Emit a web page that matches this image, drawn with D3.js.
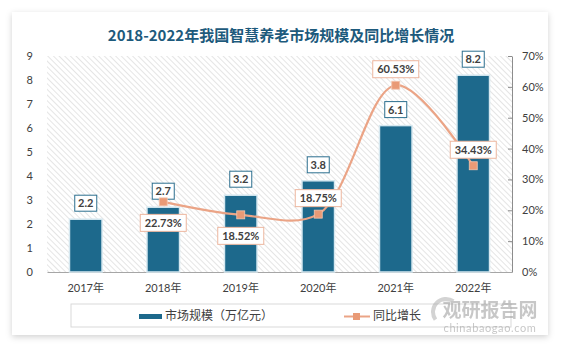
<!DOCTYPE html>
<html>
<head>
<meta charset="utf-8">
<script src="https://cdn.jsdelivr.net/npm/d3@7"></script>
<style>
  body { margin: 0; background: #fff; }
  text { font-family: Lato, "Noto Sans CJK SC", sans-serif; }
</style>
</head>
<body>
<svg id="chart" width="563" height="347"></svg>
<script>
// data
let years = ['2017年', '2018年', '2019年', '2020年', '2021年', '2022年']
let market = [2.2, 2.7, 3.2, 3.8, 6.1, 8.2]
let growthYears = ['2018年', '2019年', '2020年', '2021年', '2022年']
let growth = [22.73, 18.52, 18.75, 60.53, 34.43]
let leftTicks = [0, 1, 2, 3, 4, 5, 6, 7, 8, 9]
let rightTicks = [0, 10, 20, 30, 40, 50, 60, 70]
// label below (1) or above (-1) the point
let growthLabelSide = [1, 1, -1, -1, -1]

let svg = d3.select('#chart')
let W = 563, H = 347
let m = {top: 56, right: 51, bottom: 75, left: 47}
let pw = W - m.left - m.right, ph = H - m.top - m.bottom

let defs = svg.append('defs')
let shadow = defs.append('filter').attr('id', 'shadow')
  .attr('x', '-5%').attr('y', '-5%').attr('width', '110%').attr('height', '115%')
shadow.append('feDropShadow').attr('dx', 0).attr('dy', 2).attr('stdDeviation', 3)
  .attr('flood-color', '#000').attr('flood-opacity', 0.18)

let hatch = defs.append('pattern').attr('id', 'hatch')
  .attr('patternUnits', 'userSpaceOnUse').attr('width', 4).attr('height', 4)
  .attr('patternTransform', 'rotate(-45)')
hatch.append('rect').attr('width', 4).attr('height', 4).attr('fill', '#fff')
hatch.append('line').attr('x1', 0).attr('y1', 0).attr('x2', 0).attr('y2', 4)
  .attr('stroke', '#d4d4d4').attr('stroke-width', 1.2)

// card
svg.append('rect').attr('x', 12).attr('y', 12).attr('width', 536).attr('height', 323)
  .attr('fill', '#fff').attr('filter', 'url(#shadow)')

svg.append('text').text('2018-2022年我国智慧养老市场规模及同比增长情况')
  .attr('x', 281).attr('y', 41).attr('text-anchor', 'middle')
  .attr('font-size', 15).attr('font-weight', 'bold').attr('fill', '#1d5a7c')
  .style('font-family', '"Noto Sans CJK SC", sans-serif')

let g = svg.append('g').attr('transform', `translate(${m.left},${m.top})`)

let x = d3.scaleBand().domain(years).range([0, pw]).paddingInner(0.58).paddingOuter(0.29)
let y = d3.scaleLinear().domain([0, 9]).range([ph, 0])
let y2 = d3.scaleLinear().domain([0, 70]).range([ph, 0])

g.append('rect').attr('width', pw).attr('height', ph).attr('fill', 'url(#hatch)')

// axes
let yAxis = g.append('g').call(d3.axisLeft(y).tickValues(leftTicks).tickSize(0).tickPadding(14))
yAxis.select('.domain').remove()
yAxis.selectAll('text').attr('font-size', 11).attr('fill', '#404040')

let y2Axis = g.append('g').attr('transform', `translate(${pw},0)`)
  .call(d3.axisRight(y2).tickValues(rightTicks).tickFormat(d => d + '%')
    .tickSizeInner(-4).tickSizeOuter(0).tickPadding(10))
y2Axis.select('.domain').attr('stroke', '#8c8c8c')
y2Axis.selectAll('line').attr('stroke', '#8c8c8c')
y2Axis.selectAll('text').attr('font-size', 11).attr('fill', '#404040')

let xAxis = g.append('g').attr('transform', `translate(0,${ph})`)
  .call(d3.axisBottom(x).tickSize(0).tickPadding(12))
xAxis.select('.domain').attr('stroke', '#a6a6a6')
xAxis.selectAll('text').attr('font-size', 11).attr('fill', '#404040')
  .style('font-family', 'Lato, "Noto Sans CJK SC", sans-serif')

// bars
g.selectAll('.bar').data(market).enter().append('rect')
  .attr('class', 'bar')
  .attr('x', (d, i) => x(years[i]))
  .attr('y', d => y(d))
  .attr('width', x.bandwidth())
  .attr('height', d => ph - y(d))
  .attr('fill', '#1d698c')
  .attr('stroke', '#d6e8f0').attr('stroke-width', 1.5)

// bar labels
let barLab = g.selectAll('.blab').data(market).enter().append('g')
  .attr('transform', (d, i) => `translate(${x(years[i]) + x.bandwidth() / 2},${y(d) - 16})`)
barLab.append('rect').attr('x', -11).attr('y', -8).attr('width', 22).attr('height', 16)
  .attr('fill', '#fff').attr('stroke', '#2c6f8f').attr('stroke-width', 1)
barLab.append('text').text(d => d.toFixed(1))
  .attr('text-anchor', 'middle').attr('dy', '0.36em')
  .attr('font-size', 11).attr('font-weight', 'bold').attr('fill', '#404040')

// growth line
let cx = (d, i) => x(growthYears[i]) + x.bandwidth() / 2
let line = d3.line().x(cx).y(d => y2(d)).curve(d3.curveCatmullRom.alpha(0.5))
g.append('path').datum(growth).attr('d', line)
  .attr('fill', 'none').attr('stroke', '#eba486').attr('stroke-width', 2.2)

g.selectAll('.pt').data(growth).enter().append('rect')
  .attr('x', (d, i) => cx(d, i) - 4).attr('y', d => y2(d) - 4)
  .attr('width', 8).attr('height', 8)
  .attr('fill', '#e99a76').attr('stroke', '#f3c6b0').attr('stroke-width', 0.8)

let lineLab = g.selectAll('.llab').data(growth).enter().append('g')
  .attr('transform', (d, i) => `translate(${cx(d, i)},${y2(d) + (growthLabelSide[i] > 0 ? 21 : -16)})`)
lineLab.append('rect').attr('x', -23).attr('y', -8.5).attr('width', 46).attr('height', 17)
  .attr('fill', '#fff').attr('stroke', '#edb79f').attr('stroke-width', 1)
lineLab.append('text').text(d => d.toFixed(2) + '%')
  .attr('text-anchor', 'middle').attr('dy', '0.36em')
  .attr('font-size', 11).attr('font-weight', 'bold').attr('fill', '#404040')

// legend
let leg = svg.append('g')
leg.append('rect').attr('x', 71).attr('y', 304).attr('width', 440).attr('height', 23)
  .attr('fill', '#fff').attr('stroke', '#d9d9d9')
leg.append('rect').attr('x', 139).attr('y', 314).attr('width', 23).attr('height', 5).attr('fill', '#1d698c')
leg.append('text').text('市场规模（万亿元）').attr('x', 165).attr('y', 320)
  .attr('font-size', 12).attr('fill', '#404040')
  .style('font-family', '"Noto Sans CJK SC", sans-serif')
leg.append('line').attr('x1', 344).attr('x2', 370).attr('y1', 316.5).attr('y2', 316.5)
  .attr('stroke', '#eba486').attr('stroke-width', 2)
leg.append('rect').attr('x', 353).attr('y', 313).attr('width', 7).attr('height', 7).attr('fill', '#e99a76')
leg.append('text').text('同比增长').attr('x', 373).attr('y', 320)
  .attr('font-size', 12).attr('fill', '#404040')
  .style('font-family', '"Noto Sans CJK SC", sans-serif')

// watermark
let wm = svg.append('g').attr('opacity', 0.55)
wm.append('path').attr('d', d3.arc()({innerRadius: 11, outerRadius: 15, startAngle: -2.2, endAngle: 0.6}))
  .attr('transform', 'translate(446,312)').attr('fill', '#b0b0b0')
wm.append('text').text('观研报告网').attr('x', 490).attr('y', 317).attr('text-anchor', 'middle')
  .attr('font-size', 19).attr('font-weight', 'bold').attr('fill', '#9a9a9a')
  .style('font-family', '"Noto Sans CJK SC", sans-serif')
wm.append('text').text('chinabaogao.com').attr('x', 490).attr('y', 332).attr('text-anchor', 'middle')
  .attr('font-size', 11).attr('fill', '#9a9a9a').attr('letter-spacing', 0.6)
</script>
</body>
</html>
